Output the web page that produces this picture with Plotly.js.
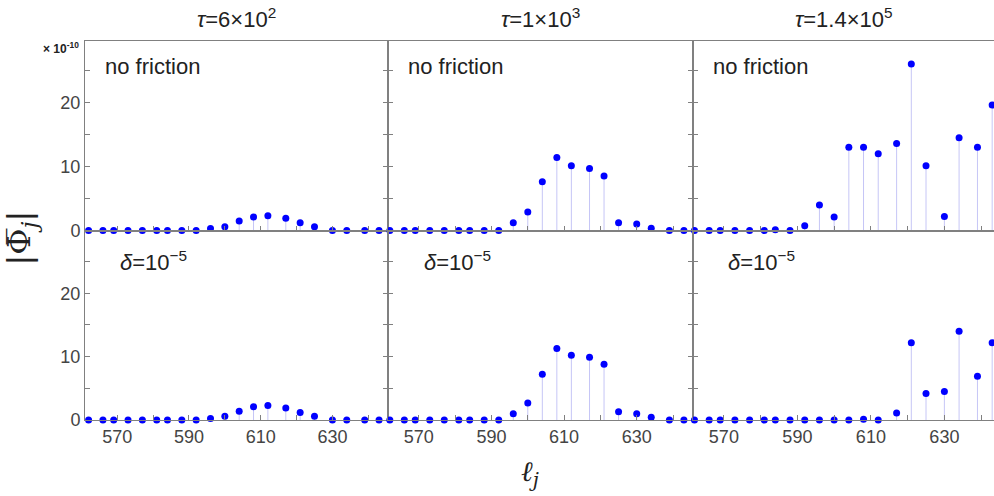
<!DOCTYPE html>
<html><head><meta charset="utf-8">
<script src="https://cdn.plot.ly/plotly-3.0.1.min.js"></script>
<style>html,body{margin:0;padding:0;background:#fff;overflow:hidden}#chart{width:994px;height:496px}</style>
</head><body><div id="chart"></div>
<script>
// ℓ_j positions
const ell = [562,566,569,573,577,581,584,588,592,596,600,604,608,612,617,621,625,630,634,639,643];
// |Φ̄_j| in units of 1e-10
const noFrictionTau600   = [0,0,0,0,0,0,0,0,0,0.3,0.6,1.5,2.1,2.3,1.9,1.2,0.6,0,0,0,0];
const noFrictionTau1e3   = [0,0,0,0,0,0,0,0,0,1.2,2.9,7.6,11.4,10.1,9.7,8.5,1.2,1.0,0.35,0,0];
const noFrictionTau14e5  = [0,0,0,0,0,0,0.1,0,0.75,4.0,2.1,13.0,13.0,12.0,13.6,26.0,10.1,2.2,14.5,13.0,19.6];
const frictionTau600     = [0,0,0,0,0,0,0,0,0,0.25,0.6,1.4,2.1,2.3,1.9,1.2,0.6,0,0,0,0];
const frictionTau1e3     = [0,0,0,0,0,0,0,0,0,1.0,2.7,7.2,11.3,10.2,9.9,8.8,1.3,1.0,0.45,0,0];
const frictionTau14e5    = [0,0,0,0,0,0,0,0,0,0,0,0,0.1,0,1.1,12.2,4.2,4.5,14.0,6.9,12.2];

const columnTitles = ['<i>τ</i>=6×10<sup>2</sup>','<i>τ</i>=1×10<sup>3</sup>','<i>τ</i>=1.4×10<sup>5</sup>'];
const rowLabels = ['no friction','<i>δ</i>=10<sup>−5</sup>'];

const panels = [noFrictionTau600,noFrictionTau1e3,noFrictionTau14e5,frictionTau600,frictionTau1e3,frictionTau14e5];

const font = 'Liberation Sans, Arial, sans-serif';
const frame = '#808080';
const traces = [];
panels.forEach((vals,i)=>{
  const ax = i===0?'':String(i+1);
  const sx=[], sy=[];
  ell.forEach((l,k)=>{ sx.push(l,l,null); sy.push(0,vals[k],null); });
  traces.push({x:sx,y:sy,mode:'lines',line:{color:'#c6c6f6',width:1},xaxis:'x'+ax,yaxis:'y'+ax,hoverinfo:'skip',showlegend:false,cliponaxis:false});
  traces.push({x:ell,y:vals,mode:'markers',marker:{color:'#0000ff',size:7},xaxis:'x'+ax,yaxis:'y'+ax,showlegend:false,cliponaxis:false});
});

const colDom = [[0,303/909],[303/909,608/909],[608/909,1]];
const rowDom = [[0.5,1],[0,0.5]];
const xRanges = [[561,645.5],[561.5,645.5],[561.6,643.5]];
const layout = {width:994,height:496,margin:{l:85,r:0,t:41,b:76},paper_bgcolor:'#fff',plot_bgcolor:'#fff',
  font:{family:font,color:'#444',size:18},showlegend:false,annotations:[]};
for(let i=0;i<6;i++){
  const r=Math.floor(i/3), c=i%3;
  const ax = i===0?'':String(i+1);
  layout['xaxis'+ax]={domain:colDom[c],range:xRanges[c],anchor:'y'+ax,showgrid:false,zeroline:false,
    showline:true,linecolor:frame,linewidth:1,mirror:true,ticks:'inside',ticklen:5,tickcolor:frame,
    tick0:570,dtick:20,minor:{dtick:10,tick0:570,ticks:'inside',ticklen:5,tickcolor:frame,showgrid:false},
    showticklabels:r===1,tickfont:{size:18,color:'#444',family:font}};
  layout['yaxis'+ax]={domain:rowDom[r],range:r===0?[0,29.6]:[0,29.9],anchor:'x'+ax,showgrid:false,zeroline:false,
    showline:true,linecolor:frame,linewidth:1,mirror:c===2?false:'ticks',ticks:'inside',ticklen:5,tickcolor:frame,
    tick0:0,dtick:10,minor:{dtick:5,tick0:0,ticks:'inside',ticklen:5,tickcolor:frame,showgrid:false},
    showticklabels:c===0,tickfont:{size:18,color:'#444',family:font}};
  layout.annotations.push({xref:'x'+ax+' domain',yref:'y'+ax+' domain',
    x:r===0?0.06:0.11,y:r===0?0.863:0.84,xanchor:'left',yanchor:'middle',showarrow:false,
    text:rowLabels[r],font:{size:22,color:'#222',family:font}});
}
columnTitles.forEach((t,c)=>{
  layout.annotations.push({xref:'paper',yref:'paper',x:(colDom[c][0]+colDom[c][1])/2,y:1.06,xanchor:'center',yanchor:'middle',
    showarrow:false,text:t,font:{size:22,color:'#222',family:font}});
});
layout.annotations.push({xref:'paper',yref:'paper',x:-0.004,y:0.982,xanchor:'right',yanchor:'middle',showarrow:false,
  text:'<b>× 10<sup>-10</sup></b>',font:{size:12,color:'#222',family:font}});
layout.annotations.push({xref:'paper',yref:'paper',x:-0.07,y:0.48,xanchor:'center',yanchor:'middle',showarrow:false,textangle:-90,
  text:'|Φ̅<sub><i>j</i></sub>|',font:{size:32,color:'#222',family:'DejaVu Serif, serif'}});
layout.annotations.push({xref:'paper',yref:'paper',x:0.49,y:-0.14,xanchor:'center',yanchor:'middle',showarrow:false,
  text:'<i>ℓ</i><sub><i>j</i></sub>',font:{size:28,color:'#222',family:'DejaVu Serif, serif'}});

Plotly.newPlot('chart',traces,layout,{displayModeBar:false,staticPlot:true});
</script></body></html>
